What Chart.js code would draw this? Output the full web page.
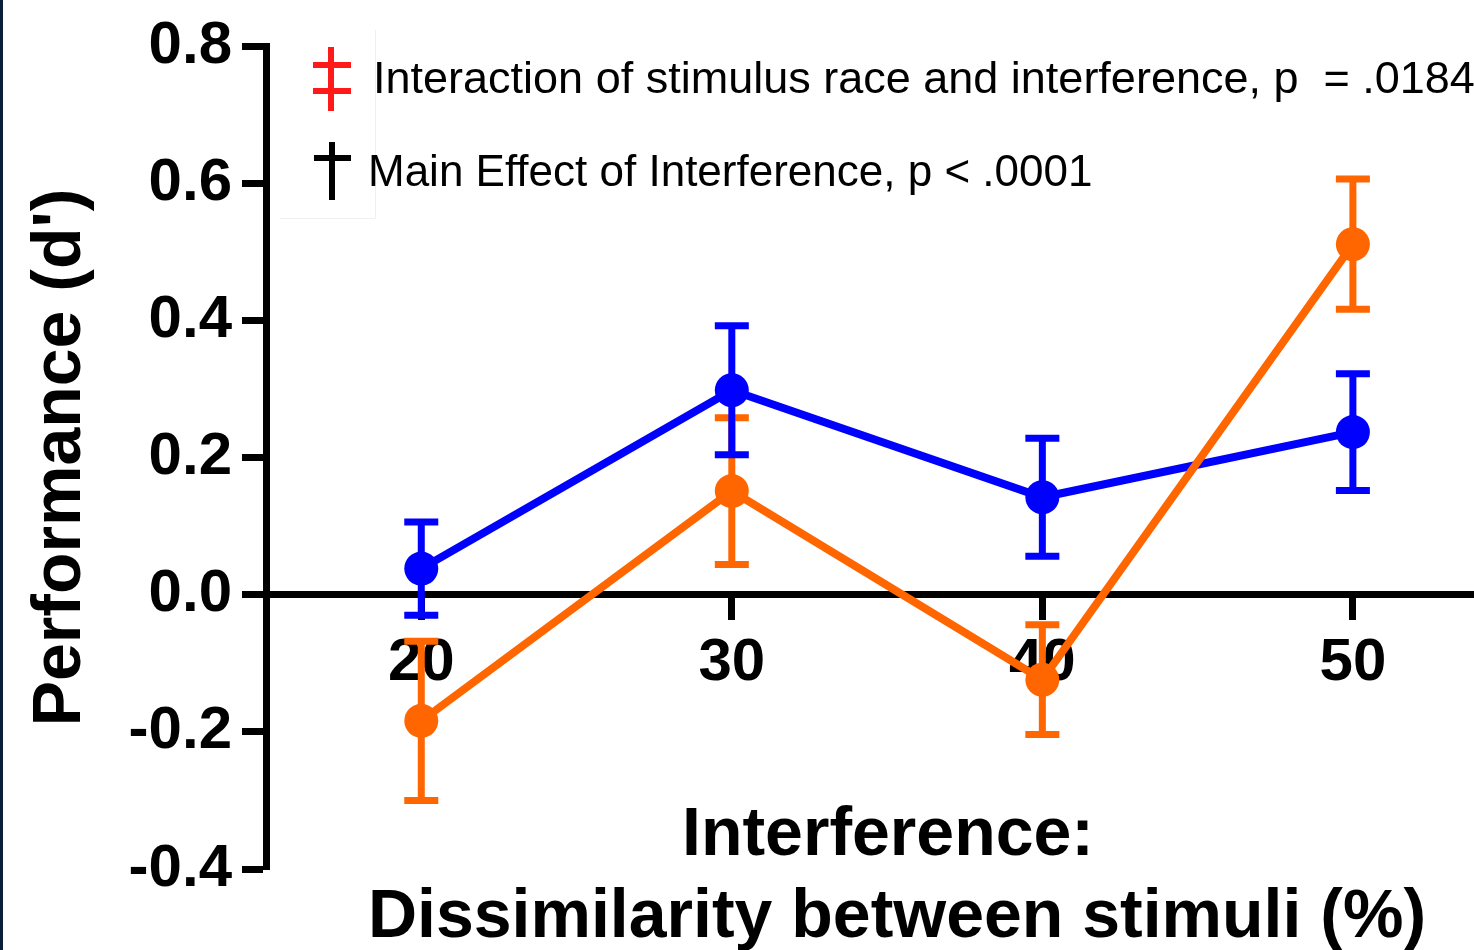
<!DOCTYPE html>
<html>
<head>
<meta charset="utf-8">
<title>Performance by interference</title>
<script src="https://cdn.jsdelivr.net/npm/chart.js@4.4.1/dist/chart.umd.min.js"></script>
<style>
  html, body { margin: 0; padding: 0; background: #fff; }
  #chart { display: block; }
</style>
</head>
<body>
<canvas id="chart" width="1474" height="950"></canvas>
<script>
// Data
const interference = [20, 30, 40, 50];
const blueMean = [0.038, 0.298, 0.142, 0.237];
const blueErr = [0.068, 0.094, 0.086, 0.085];
const orangeMean = [-0.184, 0.151, -0.124, 0.511];
const orangeErr = [0.116, 0.107, 0.080, 0.095];
const yTicks = [-0.4, -0.2, 0.0, 0.2, 0.4, 0.6, 0.8];

const yTitle = "Performance (d')";
const xTitleLines = ['Interference:', 'Dissimilarity between stimuli (%)'];
const legendLines = [
  'Interaction of stimulus race and interference, p  = .0184',
  'Main Effect of Interference, p < .0001'
];

const FONT = "Arial, 'Liberation Sans', Helvetica, sans-serif";
const BLUE = '#0000ff';
const ORANGE = '#ff6600';

function points(means) {
  return interference.map((x, i) => ({ x: x, y: means[i] }));
}

// error bars, orange first so blue bars sit on top
const errorBars = {
  id: 'errorBars',
  afterDatasetsDraw(chart) {
    const { ctx, scales: { x, y } } = chart;
    const sets = [[orangeMean, orangeErr, ORANGE], [blueMean, blueErr, BLUE]];
    ctx.save();
    sets.forEach(([means, errs, color]) => {
      ctx.strokeStyle = color;
      ctx.lineWidth = 7;
      ctx.lineCap = 'butt';
      means.forEach((m, i) => {
        const px = x.getPixelForValue(interference[i]);
        const top = y.getPixelForValue(m + errs[i]);
        const bot = y.getPixelForValue(m - errs[i]);
        ctx.beginPath();
        ctx.moveTo(px, top);
        ctx.lineTo(px, bot);
        ctx.moveTo(px - 17, top);
        ctx.lineTo(px + 17, top);
        ctx.moveTo(px - 17, bot);
        ctx.lineTo(px + 17, bot);
        ctx.stroke();
      });
    });
    ctx.restore();
  }
};

// legend box, x title and the dark strip at the left edge
const decorations = {
  id: 'decorations',
  afterDraw(chart) {
    const ctx = chart.ctx;
    ctx.save();

    ctx.fillStyle = '#0b2038';
    ctx.fillRect(0, 0, 3, 950);

    // faint frame of the pasted legend image
    ctx.strokeStyle = '#f0f0f0';
    ctx.lineWidth = 1;
    ctx.beginPath();
    ctx.moveTo(375.5, 30);
    ctx.lineTo(375.5, 218.5);
    ctx.lineTo(280, 218.5);
    ctx.stroke();

    // double dagger
    ctx.strokeStyle = '#ff1a1a';
    ctx.lineWidth = 6;
    ctx.beginPath();
    ctx.moveTo(331, 47); ctx.lineTo(331, 111);
    ctx.moveTo(313, 65); ctx.lineTo(351, 65);
    ctx.moveTo(313, 91); ctx.lineTo(351, 91);
    ctx.stroke();

    // dagger
    ctx.strokeStyle = '#000';
    ctx.beginPath();
    ctx.moveTo(332, 142); ctx.lineTo(332, 200);
    ctx.moveTo(314, 158); ctx.lineTo(351, 158);
    ctx.stroke();

    ctx.fillStyle = '#000';
    ctx.textAlign = 'left';
    ctx.textBaseline = 'alphabetic';
    ctx.font = '45px ' + FONT;
    ctx.fillText(legendLines[0], 373, 93);
    ctx.font = '44px ' + FONT;
    ctx.fillText(legendLines[1], 368, 186);

    ctx.textAlign = 'center';
    ctx.font = 'bold 68px ' + FONT;
    ctx.fillText(xTitleLines[0], 888, 855);
    ctx.fillText(xTitleLines[1], 897, 937);

    ctx.restore();
  }
};

const chart = new Chart(document.getElementById('chart'), {
  type: 'line',
  data: {
    datasets: [
      {
        label: 'orange',
        data: points(orangeMean),
        borderColor: ORANGE,
        backgroundColor: ORANGE,
        borderWidth: 8,
        pointRadius: 17,
        pointHoverRadius: 17,
        pointBorderWidth: 0,
        tension: 0,
        clip: false
      },
      {
        label: 'blue',
        data: points(blueMean),
        borderColor: BLUE,
        backgroundColor: BLUE,
        borderWidth: 8,
        pointRadius: 17,
        pointHoverRadius: 17,
        pointBorderWidth: 0,
        tension: 0,
        clip: false
      }
    ]
  },
  options: {
    responsive: false,
    animation: false,
    layout: { autoPadding: false, padding: { left: 0, right: 0, top: 42, bottom: 81 } },
    plugins: {
      legend: { display: false },
      tooltip: { enabled: false }
    },
    scales: {
      x: {
        type: 'linear',
        position: { y: 0 },
        min: 15,
        max: 53.9,
        afterBuildTicks: s => { s.ticks = interference.map(v => ({ value: v })); },
        afterFit: s => { s.paddingLeft = 0; s.paddingRight = 0; },
        border: { display: true, color: '#000', width: 7 },
        grid: { drawOnChartArea: false, drawTicks: true, tickLength: 22, tickWidth: 7, tickColor: '#000' },
        ticks: {
          color: '#000',
          padding: 11,
          maxRotation: 0,
          autoSkip: false,
          font: { family: FONT, size: 60, weight: 'bold' }
        }
      },
      y: {
        min: -0.4,
        max: 0.8,
        afterBuildTicks: s => { s.ticks = yTicks.map(v => ({ value: v })); },
        afterFit: s => { s.width = 266; },
        border: { display: true, color: '#000', width: 7 },
        grid: { drawOnChartArea: false, drawTicks: true, tickLength: 24, tickWidth: 7, tickColor: '#000' },
        ticks: {
          color: '#000',
          padding: 10,
          font: { family: FONT, size: 60, weight: 'bold' },
          callback: v => v.toFixed(1)
        },
        title: {
          display: true,
          text: yTitle,
          color: '#000',
          padding: { top: 20, bottom: 0 },
          font: { family: FONT, size: 68, weight: 'bold' }
        }
      }
    }
  },
  plugins: [errorBars, decorations]
});
</script>
</body>
</html>
